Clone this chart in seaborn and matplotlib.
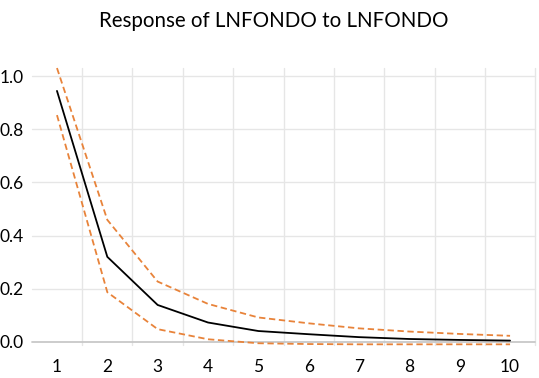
import matplotlib
matplotlib.use("Agg")
import matplotlib.pyplot as plt
import numpy as np
import pandas as pd
import seaborn as sns

# Impulse response of LNFONDO to a LNFONDO shock, with +/- 2 S.E. bands
periods = [1, 2, 3, 4, 5, 6, 7, 8, 9, 10]
response = [0.944, 0.320, 0.139, 0.073, 0.041, 0.029, 0.018, 0.011, 0.0075, 0.005]
upper_band = [1.030, 0.459, 0.227, 0.143, 0.092, 0.070, 0.051, 0.039, 0.030, 0.023]
lower_band = [0.853, 0.187, 0.048, 0.010, -0.005, -0.008, -0.009, -0.009, -0.009, -0.009]
y_ticks = [0.0, 0.2, 0.4, 0.6, 0.8, 1.0]

df = pd.DataFrame({"period": periods, "response": response,
                   "upper": upper_band, "lower": lower_band})

sns.set_theme(style="white")
plt.rcParams["font.family"] = ["Lato", "DejaVu Sans"]

fig = plt.figure(figsize=(5.39, 3.78), dpi=100)
ax = fig.add_axes([0.059, 0.087, 0.934, 0.733])

grid_col = "#e6e6e6"
orange = "#e8833a"

# Gridlines: horizontal at value ticks, vertical between periods
for yv in y_ticks[1:]:
    ax.axhline(yv, color=grid_col, lw=1.0, zorder=0)
for xv in np.arange(1.5, 11, 1.0):
    ax.axvline(xv, color=grid_col, lw=1.0, zorder=0)
ax.axhline(0.0, color="#c8c8c8", lw=1.3, zorder=1)

sns.lineplot(data=df, x="period", y="upper", ax=ax, color=orange,
             lw=1.3, linestyle=(0, (3.5, 2.0)), zorder=3)
sns.lineplot(data=df, x="period", y="lower", ax=ax, color=orange,
             lw=1.3, linestyle=(0, (3.5, 2.0)), zorder=3)
sns.lineplot(data=df, x="period", y="response", ax=ax, color="black",
             lw=1.3, zorder=4)
for line in ax.lines:
    line.set_clip_on(False)

ax.set_xlim(0.5, 10.5)
ax.set_ylim(-0.012, 1.03)
ax.set_xticks(periods)
ax.set_xticklabels([str(p) for p in periods])
ax.set_yticks(y_ticks)
ax.set_yticklabels([f"{v:.1f}" for v in y_ticks])
ax.tick_params(axis="both", length=0, labelsize=12.5, colors="black")
ax.tick_params(axis="y", pad=6)
ax.tick_params(axis="x", pad=10)
ax.set_xlabel("")
ax.set_ylabel("")
for s in ax.spines.values():
    s.set_visible(False)

fig.text(0.508, 0.945, "Response of LNFONDO to LNFONDO", ha="center",
         va="center", fontsize=14.8, color="black")

fig.savefig("out.png", dpi=100)
